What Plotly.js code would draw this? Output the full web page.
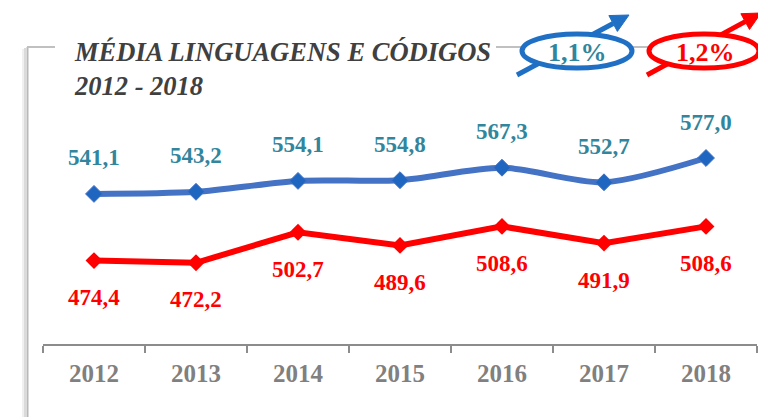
<!DOCTYPE html>
<html>
<head>
<meta charset="utf-8">
<script src="https://cdn.plot.ly/plotly-3.0.1.min.js"></script>
<style>
html,body{margin:0;padding:0;background:#fff;}
#chart{width:758px;height:417px;}
</style>
</head>
<body>
<div id="chart"></div>
<script>
// ---- data ----
var years = ["2012", "2013", "2014", "2015", "2016", "2017", "2018"];
var blueValues = [541.1, 543.2, 554.1, 554.8, 567.3, 552.7, 577.0];
var redValues = [474.4, 472.2, 502.7, 489.6, 508.6, 491.9, 508.6];
var blueGrowth = "1,1%";
var redGrowth = "1,2%";
var titleLines = ["MÉDIA LINGUAGENS E CÓDIGOS", "2012 - 2018"];

// ---- layout helpers (pixel -> paper) ----
var L = 43, T = 100, W = 714, H = 244;
function X(px) { return (px - L) / W; }
function Y(py) { return (T + H - py) / H; }
function fmt(v) { return v.toFixed(1).replace('.', ','); }

var serif = "Liberation Serif, Times New Roman, serif";

var traceBlue = {
  x: years, y: blueValues, type: 'scatter', mode: 'lines+markers',
  line: {color: '#4472C4', width: 6, shape: 'spline', smoothing: 0.8},
  marker: {symbol: 'diamond', size: 13, color: '#1F66C1', line: {color: '#4472C4', width: 1}},
  hoverinfo: 'skip', cliponaxis: false
};
var traceRed = {
  x: years, y: redValues, type: 'scatter', mode: 'lines+markers',
  line: {color: '#FF0000', width: 6},
  marker: {symbol: 'diamond', size: 13, color: '#FF0000'},
  hoverinfo: 'skip', cliponaxis: false
};

var annotations = [];
years.forEach(function (yr, i) {
  annotations.push({x: i, y: blueValues[i], xref: 'x', yref: 'y', text: '<b>' + fmt(blueValues[i]) + '</b>',
    showarrow: false, yshift: 36, font: {family: serif, size: 23, color: '#31859C'}});
  annotations.push({x: i, y: redValues[i], xref: 'x', yref: 'y', text: '<b>' + fmt(redValues[i]) + '</b>',
    showarrow: false, yshift: -37, font: {family: serif, size: 23, color: '#FF0000'}});
});
annotations.push({xref: 'paper', yref: 'paper', x: X(72), y: Y(69), xanchor: 'left', yanchor: 'middle', align: 'left',
  text: '<b><i>' + titleLines.join('<br>') + '</i></b>', showarrow: false,
  font: {family: serif, size: 26.5, color: '#404040'}});
annotations.push({xref: 'paper', yref: 'paper', x: X(577), y: Y(52), xanchor: 'center', yanchor: 'middle',
  text: '<b>' + blueGrowth + '</b>', showarrow: false, font: {family: serif, size: 26, color: '#31859C'}});
annotations.push({xref: 'paper', yref: 'paper', x: X(705), y: Y(52), xanchor: 'center', yanchor: 'middle',
  text: '<b>' + redGrowth + '</b>', showarrow: false, font: {family: serif, size: 26, color: '#FF0000'}});

function pline(x0, y0, x1, y1, color, width) {
  return {type: 'line', xref: 'paper', yref: 'paper', x0: X(x0), y0: Y(y0), x1: X(x1), y1: Y(y1),
    line: {color: color, width: width}, layer: 'above'};
}
function arrowShapes(tx, ty, tipx, tipy, color) {
  var dx = tipx - tx, dy = tipy - ty, len = Math.sqrt(dx * dx + dy * dy);
  var ux = dx / len, uy = dy / len, hl = 18, hw = 9;
  var bx = tipx - hl * ux, by = tipy - hl * uy;
  var px = -uy, py = ux;
  var p1 = [bx + hw * px, by + hw * py], p2 = [bx - hw * px, by - hw * py];
  return [
    pline(tx, ty, bx, by, color, 5),
    {type: 'path', xref: 'paper', yref: 'paper', layer: 'above',
      path: 'M' + X(tipx) + ',' + Y(tipy) + ' L' + X(p1[0]) + ',' + Y(p1[1]) + ' L' + X(p2[0]) + ',' + Y(p2[1]) + ' Z',
      fillcolor: color, line: {color: color, width: 1}}
  ];
}
function ellipse(cx, cy, rx, ry, color) {
  return {type: 'circle', xref: 'paper', yref: 'paper', layer: 'above',
    x0: X(cx - rx), x1: X(cx + rx), y0: Y(cy + ry), y1: Y(cy - ry),
    fillcolor: '#FFFFFF', line: {color: color, width: 5}};
}

var shapes = [];
// frame with soft shadow
shapes.push(pline(23, 49, 23, 420, '#F0F0F0', 2));
shapes.push(pline(25, 48, 25, 420, '#DADADA', 2));
shapes.push(pline(27.5, 47, 27.5, 420, '#B8B8B8', 2));
shapes.push(pline(27, 47, 55, 47, '#C0C0C0', 2));
shapes.push(pline(496, 47, 522, 47, '#C0C0C0', 2));
shapes.push(pline(630, 47, 650, 47, '#C0C0C0', 2));
// arrows + ellipses
shapes = shapes.concat(arrowShapes(517, 75, 629, 15, '#1F70C4'));
shapes.push(ellipse(577, 51, 55, 17, '#1F70C4'));
shapes = shapes.concat(arrowShapes(647, 75, 761, 13, '#FF0000'));
shapes.push(ellipse(704, 51, 55, 17, '#FF0000'));

var layout = {
  width: 758, height: 417,
  margin: {l: L, r: 758 - L - W, t: T, b: 417 - T - H, pad: 0},
  paper_bgcolor: '#FFFFFF', plot_bgcolor: '#FFFFFF',
  showlegend: false,
  xaxis: {
    type: 'category', range: [-0.5, 6.5], fixedrange: true,
    showline: true, linecolor: '#8C8C8C', linewidth: 2,
    ticks: 'outside', tickson: 'boundaries', ticklen: 7, tickwidth: 2, tickcolor: '#8C8C8C',
    showgrid: false, zeroline: false,
    tickfont: {family: serif, size: 25, color: '#808080', weight: 'bold'},
    ticklabelstandoff: 6
  },
  yaxis: {range: [391, 635], visible: false, fixedrange: true},
  annotations: annotations,
  shapes: shapes
};

Plotly.newPlot('chart', [traceBlue, traceRed], layout, {displayModeBar: false, staticPlot: true});
</script>
</body>
</html>
